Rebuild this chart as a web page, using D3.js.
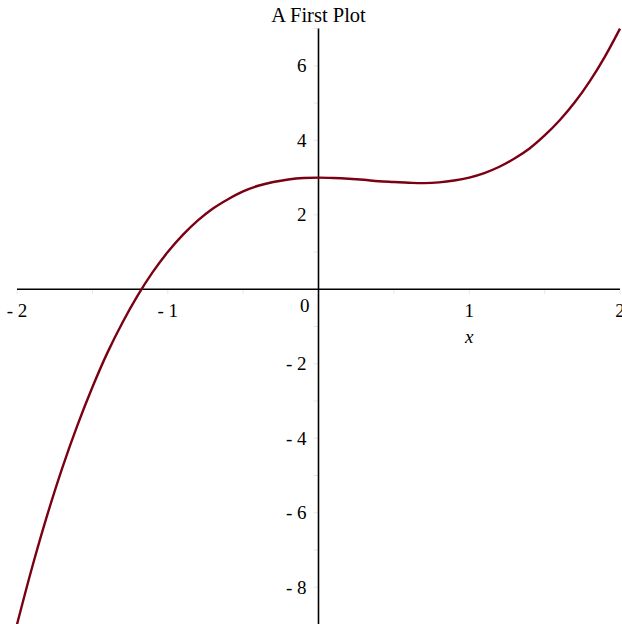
<!DOCTYPE html>
<html lang="en">
<head>
    <meta charset="UTF-8" />
    <script src="https://cdn.jsdelivr.net/npm/d3@7"></script>
    <style>
        body { margin: 0; background: #fff; }
        text { font-family: "Liberation Serif", "Times New Roman", serif; white-space: pre; }
    </style>
    <title>A First Plot</title>
</head>
<body>
    <div id="chart"></div>
    <script type="text/javascript">
        // values, every 0.1 along x
        var xs = [-2, -1.9, -1.8, -1.7, -1.6, -1.5, -1.4, -1.3, -1.2, -1.1, -1, -0.9, -0.8, -0.7, -0.6, -0.5, -0.4, -0.3, -0.2, -0.1,
            0, 0.1, 0.2, 0.3, 0.4, 0.5, 0.6, 0.7, 0.8, 0.9, 1, 1.1, 1.2, 1.3, 1.4, 1.5, 1.6, 1.7, 1.8, 1.9, 2];
        var ys = [-9, -7.47, -6.07, -4.80, -3.66, -2.63, -1.70, -0.89, -0.17, 0.46, 1, 1.46, 1.85, 2.17, 2.42, 2.63, 2.78, 2.88, 2.95, 2.99,
            3, 2.99, 2.97, 2.94, 2.90, 2.88, 2.86, 2.85, 2.87, 2.92, 3, 3.12, 3.29, 3.51, 3.78, 4.13, 4.54, 5.02, 5.59, 6.25, 7];

        var xTickLabels = [-2, -1, 1, 2];
        var xMinorTicks = [-2, -1.5, -1, -0.5, 0.5, 1, 1.5, 2];
        var yTickLabels = [6, 4, 2, -2, -4, -6, -8];
        var yMinorTicks = [7, 6, 5, 4, 3, 2, 1, -1, -2, -3, -4, -5, -6, -7, -8, -9];

        var width = 622, height = 624;

        var svg = d3.select("#chart").append("svg")
            .attr("width", width)
            .attr("height", height);

        var x = d3.scaleLinear().domain([-2, 2]).range([17, 620]);
        var y = d3.scaleLinear().domain([-9, 7]).range([624.5, 28.6]);

        var fmt = function (d) { return d < 0 ? "- " + Math.abs(d) : "" + d; };

        // faint tick marks
        svg.append("g").selectAll("line")
            .data(xMinorTicks)
            .enter().append("line")
            .attr("x1", d => x(d)).attr("x2", d => x(d))
            .attr("y1", y(0)).attr("y2", y(0) + 5)
            .attr("stroke", "#e8e8e8");
        svg.append("g").selectAll("line")
            .data(yMinorTicks)
            .enter().append("line")
            .attr("x1", x(0) - 5).attr("x2", x(0))
            .attr("y1", d => y(d)).attr("y2", d => y(d))
            .attr("stroke", "#e8e8e8");

        // axis lines
        svg.append("line")
            .attr("x1", x(-2)).attr("x2", x(2))
            .attr("y1", y(0)).attr("y2", y(0))
            .attr("stroke", "#000").attr("stroke-width", 1.6);
        svg.append("line")
            .attr("x1", x(0)).attr("x2", x(0))
            .attr("y1", y(7)).attr("y2", y(-9))
            .attr("stroke", "#000").attr("stroke-width", 1.6);

        // tick labels
        svg.append("g").selectAll("text")
            .data(xTickLabels)
            .enter().append("text")
            .attr("x", d => x(d))
            .attr("y", y(0) + 28)
            .attr("text-anchor", "middle")
            .attr("font-size", 19)
            .text(fmt);

        svg.append("text")
            .attr("x", x(0) - 9)
            .attr("y", y(0) + 23)
            .attr("text-anchor", "end")
            .attr("font-size", 19)
            .text("0");

        svg.append("g").selectAll("text")
            .data(yTickLabels)
            .enter().append("text")
            .attr("x", x(0) - 12)
            .attr("y", d => y(d))
            .attr("dy", "0.35em")
            .attr("text-anchor", "end")
            .attr("font-size", 19)
            .text(fmt);

        // axis label and title
        svg.append("text")
            .attr("x", x(1))
            .attr("y", y(0) + 54)
            .attr("text-anchor", "middle")
            .attr("font-size", 19)
            .attr("font-style", "italic")
            .text("x");

        svg.append("text")
            .attr("x", x(0))
            .attr("y", 22)
            .attr("text-anchor", "middle")
            .attr("font-size", 20.5)
            .text("A First Plot");

        // the curve
        var line = d3.line()
            .x(function (d, i) { return x(xs[i]); })
            .y(function (d) { return y(d); })
            .curve(d3.curveCatmullRom.alpha(0.5));

        svg.append("path")
            .datum(ys)
            .attr("fill", "none")
            .attr("stroke", "#7a0012")
            .attr("stroke-width", 2.4)
            .attr("d", line);
    </script>
</body>
</html>
